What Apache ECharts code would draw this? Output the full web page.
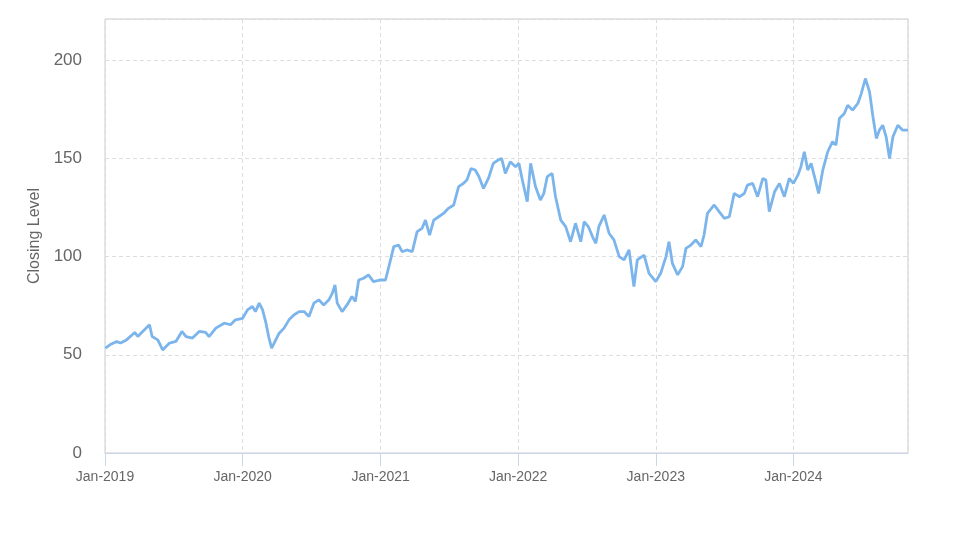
<!DOCTYPE html>
<html>
<head>
<meta charset="utf-8">
<script src="https://cdn.jsdelivr.net/npm/echarts@6/dist/echarts.min.js"></script>
<style>
html,body{margin:0;padding:0;background:#fff;}
#chart{width:973px;height:547px;}
</style>
</head>
<body>
<div id="chart"></div>
<script>
var dates = [
'2019-01-02','2019-01-14','2019-02-01','2019-02-11','2019-02-27','2019-03-21','2019-03-29','2019-04-11','2019-04-29','2019-05-06',
'2019-05-21','2019-06-03','2019-06-21','2019-07-08','2019-07-24','2019-08-04','2019-08-21','2019-09-08','2019-09-25','2019-10-04',
'2019-10-22','2019-11-13','2019-11-30','2019-12-13','2020-01-01','2020-01-14','2020-01-27','2020-02-04','2020-02-14','2020-02-23',
'2020-03-03','2020-03-11','2020-03-18','2020-03-29','2020-04-07','2020-04-20','2020-05-03','2020-05-16','2020-05-30','2020-06-12',
'2020-06-25','2020-07-08','2020-07-21','2020-08-03','2020-08-17','2020-08-26','2020-09-02','2020-09-08','2020-09-21','2020-10-04',
'2020-10-17','2020-10-26','2020-11-04','2020-11-17','2020-11-30','2020-12-13','2021-01-01','2021-01-14','2021-01-23','2021-02-05',
'2021-02-18','2021-02-27','2021-03-12','2021-03-26','2021-04-08','2021-04-21','2021-04-30','2021-05-11','2021-05-22','2021-06-04',
'2021-06-17','2021-06-30','2021-07-14','2021-07-27','2021-08-09','2021-08-18','2021-08-29','2021-09-09','2021-09-19','2021-10-01',
'2021-10-14','2021-10-27','2021-11-09','2021-11-18','2021-11-28','2021-12-11','2021-12-25','2022-01-03','2022-01-12','2022-01-25',
'2022-02-03','2022-02-16','2022-03-01','2022-03-10','2022-03-19','2022-04-01','2022-04-10','2022-04-24','2022-05-07','2022-05-20',
'2022-06-02','2022-06-16','2022-06-25','2022-07-06','2022-07-17','2022-07-26','2022-08-03','2022-08-17','2022-08-30','2022-09-12',
'2022-09-26','2022-10-09','2022-10-22','2022-11-04','2022-11-13','2022-12-01','2022-12-14','2023-01-01','2023-01-14','2023-01-28',
'2023-02-05','2023-02-14','2023-02-28','2023-03-13','2023-03-22','2023-04-04','2023-04-17','2023-05-01','2023-05-09','2023-05-18',
'2023-06-05','2023-06-18','2023-07-02','2023-07-15','2023-07-28','2023-08-11','2023-08-24','2023-09-01','2023-09-15','2023-09-28',
'2023-10-12','2023-10-20','2023-10-29','2023-11-12','2023-11-25','2023-12-08','2023-12-21','2024-01-01','2024-01-13','2024-01-21',
'2024-01-30','2024-02-08','2024-02-17','2024-02-26','2024-03-08','2024-03-19','2024-04-01','2024-04-14','2024-04-23','2024-05-02',
'2024-05-15','2024-05-24','2024-06-06','2024-06-20','2024-06-29','2024-07-10','2024-07-21','2024-07-30','2024-08-08','2024-08-16',
'2024-08-25','2024-09-03','2024-09-12','2024-09-21','2024-10-04','2024-10-17','2024-10-31'
];
var closingLevel = [
53.4,55.1,56.8,56.0,57.6,61.4,59.3,61.9,65.3,59.3,
57.6,52.5,56.0,56.8,61.9,59.3,58.5,61.9,61.4,59.3,
63.6,66.1,65.3,67.8,68.6,72.9,74.6,72.0,76.3,72.9,
66.1,58.5,53.4,57.6,61.0,63.6,67.8,70.3,72.0,72.0,
69.5,76.3,78.0,75.4,78.0,81.4,85.6,76.3,72.0,75.4,
79.7,77.1,88.1,89.0,90.7,87.3,88.1,88.1,94.9,105.1,
105.9,102.5,103.4,102.5,112.7,114.4,118.6,111.0,118.6,120.3,
122.0,124.6,126.3,135.6,137.3,139.0,144.9,144.1,140.7,134.7,
139.8,147.5,149.2,150.0,142.4,148.3,145.8,147.5,139.0,128.0,
147.5,135.6,128.8,132.2,140.7,142.4,130.5,118.6,115.3,107.6,
117.0,107.6,117.8,115.3,110.2,106.8,115.3,121.2,111.9,108.5,
100.0,98.3,103.4,84.7,98.3,100.8,91.5,87.3,91.5,100.0,
107.6,96.6,90.7,94.9,104.2,105.9,108.5,105.1,111.0,122.0,
126.3,122.9,119.5,120.3,132.2,130.5,132.2,136.4,137.3,130.5,
139.8,139.0,122.9,133.0,137.3,130.5,139.8,137.3,141.5,145.8,
153.4,144.1,147.5,140.7,132.2,144.1,153.4,158.5,156.8,170.3,
172.9,177.1,174.6,178.0,183.0,190.7,183.9,171.2,160.2,164.4,
166.9,161.0,150.0,161.0,166.9,164.4,164.4
];
var yTicks = [0, 50, 100, 150, 200];
var xStart = '2019-01-01';
var xEnd = '2024-10-31';
var seriesName = 'Closing Level';

var seriesData = dates.map(function (d, i) { return [d, closingLevel[i]]; });
var DAY = 24 * 3600 * 1000;

var chart = echarts.init(document.getElementById('chart'), null, {renderer: 'canvas'});
chart.setOption({
  animation: false,
  backgroundColor: '#ffffff',
  grid: {
    left: 105, right: 65, top: 19, bottom: 94,
    show: true, borderColor: '#cccccc', borderWidth: 1, containLabel: false
  },
  xAxis: {
    type: 'time',
    min: xStart,
    max: xEnd,
    minInterval: 365 * DAY,
    maxInterval: 366 * DAY,
    axisLine: { show: true, lineStyle: { color: '#ccd6eb', width: 1 } },
    axisTick: { show: true, length: 13, lineStyle: { color: '#ccd6eb' } },
    axisLabel: {
      color: '#666666', fontSize: 14, fontFamily: 'Liberation Sans, Arial, sans-serif', margin: 17,
      showMaxLabel: false, hideOverlap: false,
      formatter: function (v) { return 'Jan-' + new Date(v).getFullYear(); }
    },
    splitLine: { show: true, lineStyle: { color: '#dddddd', type: [4, 3], width: 1 } }
  },
  yAxis: {
    type: 'value',
    min: 0, max: 221, interval: 50,
    name: seriesName,
    nameLocation: 'middle',
    nameRotate: 90,
    nameGap: 62,
    nameTextStyle: { color: '#666666', fontSize: 16, fontFamily: 'Liberation Sans, Arial, sans-serif' },
    axisLine: { show: false },
    axisTick: { show: false },
    axisLabel: {
      color: '#666666', fontSize: 17, fontFamily: 'Liberation Sans, Arial, sans-serif', margin: 23,
      showMaxLabel: false,
      formatter: function (v) { return yTicks.indexOf(v) >= 0 ? String(v) : ''; }
    },
    splitLine: { show: true, lineStyle: { color: '#dddddd', type: [4, 3], width: 1 } }
  },
  series: [{
    name: seriesName,
    type: 'line',
    data: seriesData,
    showSymbol: false,
    symbol: 'none',
    lineStyle: { color: '#7cb5ec', width: 2.8 },
    itemStyle: { color: '#7cb5ec' }
  }]
});
</script>
</body>
</html>
